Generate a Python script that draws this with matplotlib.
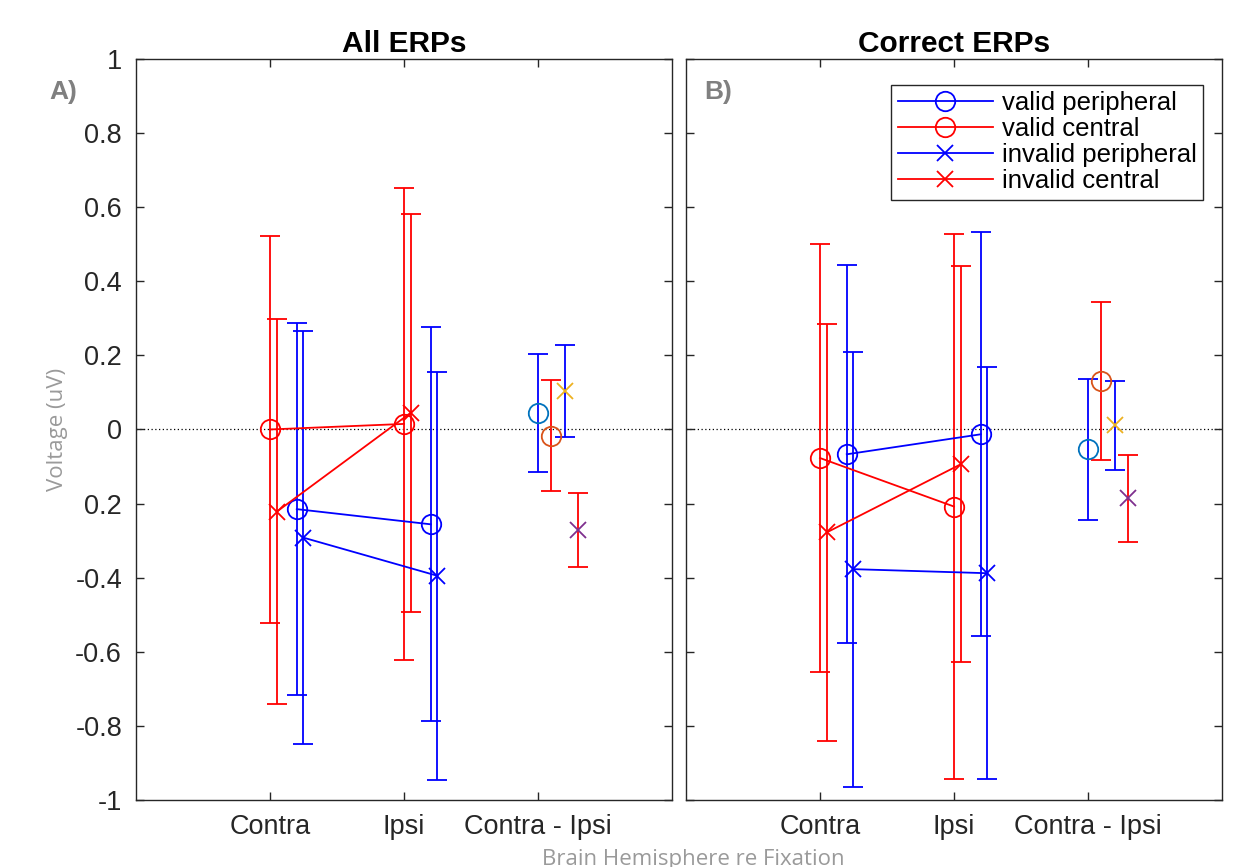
import numpy as np
import matplotlib
matplotlib.use("Agg")
import matplotlib.pyplot as plt

plt.rcParams['font.family'] = ['Liberation Sans', 'DejaVu Sans']

# group positions: Contra, Ipsi, Contra - Ipsi
tick_labels = ["Contra", "Ipsi", "Contra - Ipsi"]
conditions = ["valid peripheral", "valid central", "invalid peripheral", "invalid central"]

# All ERPs (means and error half-widths, Contra then Ipsi)
all_mean = {
    "valid peripheral": [-0.215, -0.256],
    "valid central": [0.000, 0.015],
    "invalid peripheral": [-0.292, -0.395],
    "invalid central": [-0.222, 0.045],
}
all_err = {
    "valid peripheral": [0.502, 0.532],
    "valid central": [0.523, 0.637],
    "invalid peripheral": [0.557, 0.551],
    "invalid central": [0.520, 0.537],
}
all_diff = [0.044, -0.017, 0.104, -0.271]
all_diff_err = [0.160, 0.150, 0.124, 0.099]

# Correct ERPs
cor_mean = {
    "valid peripheral": [-0.067, -0.013],
    "valid central": [-0.077, -0.208],
    "invalid peripheral": [-0.377, -0.388],
    "invalid central": [-0.278, -0.094],
}
cor_err = {
    "valid peripheral": [0.510, 0.545],
    "valid central": [0.577, 0.736],
    "invalid peripheral": [0.587, 0.556],
    "invalid central": [0.562, 0.534],
}
cor_diff = [-0.054, 0.131, 0.011, -0.186]
cor_diff_err = [0.190, 0.213, 0.121, 0.118]

yticks = [1, 0.8, 0.6, 0.4, 0.2, 0, -0.2, -0.4, -0.6, -0.8, -1]
# the minus of -0.2 is hidden under the y label in the original
ytick_labels = ["1", "0.8", "0.6", "0.4", "0.2", "0", "0.2", "-0.4", "-0.6", "-0.8", "-1"]

style = {
    "valid peripheral": dict(color="blue", marker="o", off=0.20),
    "valid central": dict(color="red", marker="o", off=0.0),
    "invalid peripheral": dict(color="blue", marker="x", off=0.25),
    "invalid central": dict(color="red", marker="x", off=0.05),
}
diff_marker_colors = ["#0072BD", "#D95319", "#EDB120", "#7E2F8E"]
diff_offsets = [0.0, 0.1, 0.2, 0.3]

fig = plt.figure(figsize=(12.44, 8.67), dpi=100)
ax1 = fig.add_axes([0.1093, 0.0773, 0.4309, 0.8547])
ax2 = fig.add_axes([0.5514, 0.0773, 0.4309, 0.8547])


def draw_panel(ax, means, errs, diff, diff_err, title, show_y):
    ax.axhline(0, color="black", linestyle=(0, (1, 2)), lw=0.9, zorder=1)
    handles = []
    for cond in conditions:
        st = style[cond]
        x = np.array([1, 2]) + st["off"]
        ax.errorbar(x, means[cond], yerr=errs[cond], fmt="none", ecolor=st["color"],
                    elinewidth=1.3, capsize=7, capthick=1.3, zorder=2)
        ms = 14 if st["marker"] == "o" else 12
        h, = ax.plot(x, means[cond], color=st["color"], marker=st["marker"], ms=ms,
                     mfc="none", mew=1.3, lw=1.3, label=cond, zorder=3)
        handles.append(h)
    for i, cond in enumerate(conditions):
        st = style[cond]
        x = 3 + diff_offsets[i]
        ax.errorbar([x], [diff[i]], yerr=[diff_err[i]], fmt="none", ecolor=st["color"],
                    elinewidth=1.3, capsize=7, capthick=1.3, zorder=2)
        ms = 14 if st["marker"] == "o" else 12
        ax.plot([x], [diff[i]], linestyle="none", marker=st["marker"], ms=ms,
                mfc="none", mec=diff_marker_colors[i], mew=1.3, zorder=3)

    ax.set_xlim(0, 4)
    ax.set_ylim(-1, 1)
    ax.set_xticks([1, 2, 3])
    ax.set_xticklabels(tick_labels, fontsize=19.5, color="#262626")
    ax.set_yticks(yticks)
    if show_y:
        ax.set_yticklabels(ytick_labels, fontsize=19.5, color="#262626")
    else:
        ax.set_yticklabels([])
    ax.tick_params(direction="in", length=6, width=1, top=True, right=True, colors="#262626",
                   labelcolor="#262626", pad=10)
    for sp in ax.spines.values():
        sp.set_color("#262626")
        sp.set_linewidth(1.0)
    ax.set_title(title, fontsize=21.5, fontweight="bold", pad=5)
    return handles


draw_panel(ax1, all_mean, all_err, all_diff, all_diff_err, "All ERPs", True)
handles = draw_panel(ax2, cor_mean, cor_err, cor_diff, cor_diff_err, "Correct ERPs", False)

leg = ax2.legend(handles=handles, loc="upper right", bbox_to_anchor=(0.965, 0.965),
                 borderaxespad=0, fancybox=False, framealpha=1, edgecolor="#262626",
                 fontsize=18.5, handlelength=3.7, handletextpad=0.35, labelspacing=0.08,
                 borderpad=0.25)
leg.get_frame().set_linewidth(1.0)

fig.text(0.040, 0.886, "A)", fontsize=19, fontweight="bold", color="#808080")
fig.text(0.566, 0.886, "B)", fontsize=19, fontweight="bold", color="#808080")

fig.text(0.046, 0.505, "Voltage (uV)", rotation=90, fontsize=16, color="#9a9a9a",
         family=["Open Sans", "DejaVu Sans"], ha="center", va="center")
fig.text(0.557, 0.021, "Brain Hemisphere re Fixation", fontsize=16, color="#9a9a9a",
         family=["Open Sans", "DejaVu Sans"], ha="center", va="top")

fig.savefig("out.png", dpi=100)
